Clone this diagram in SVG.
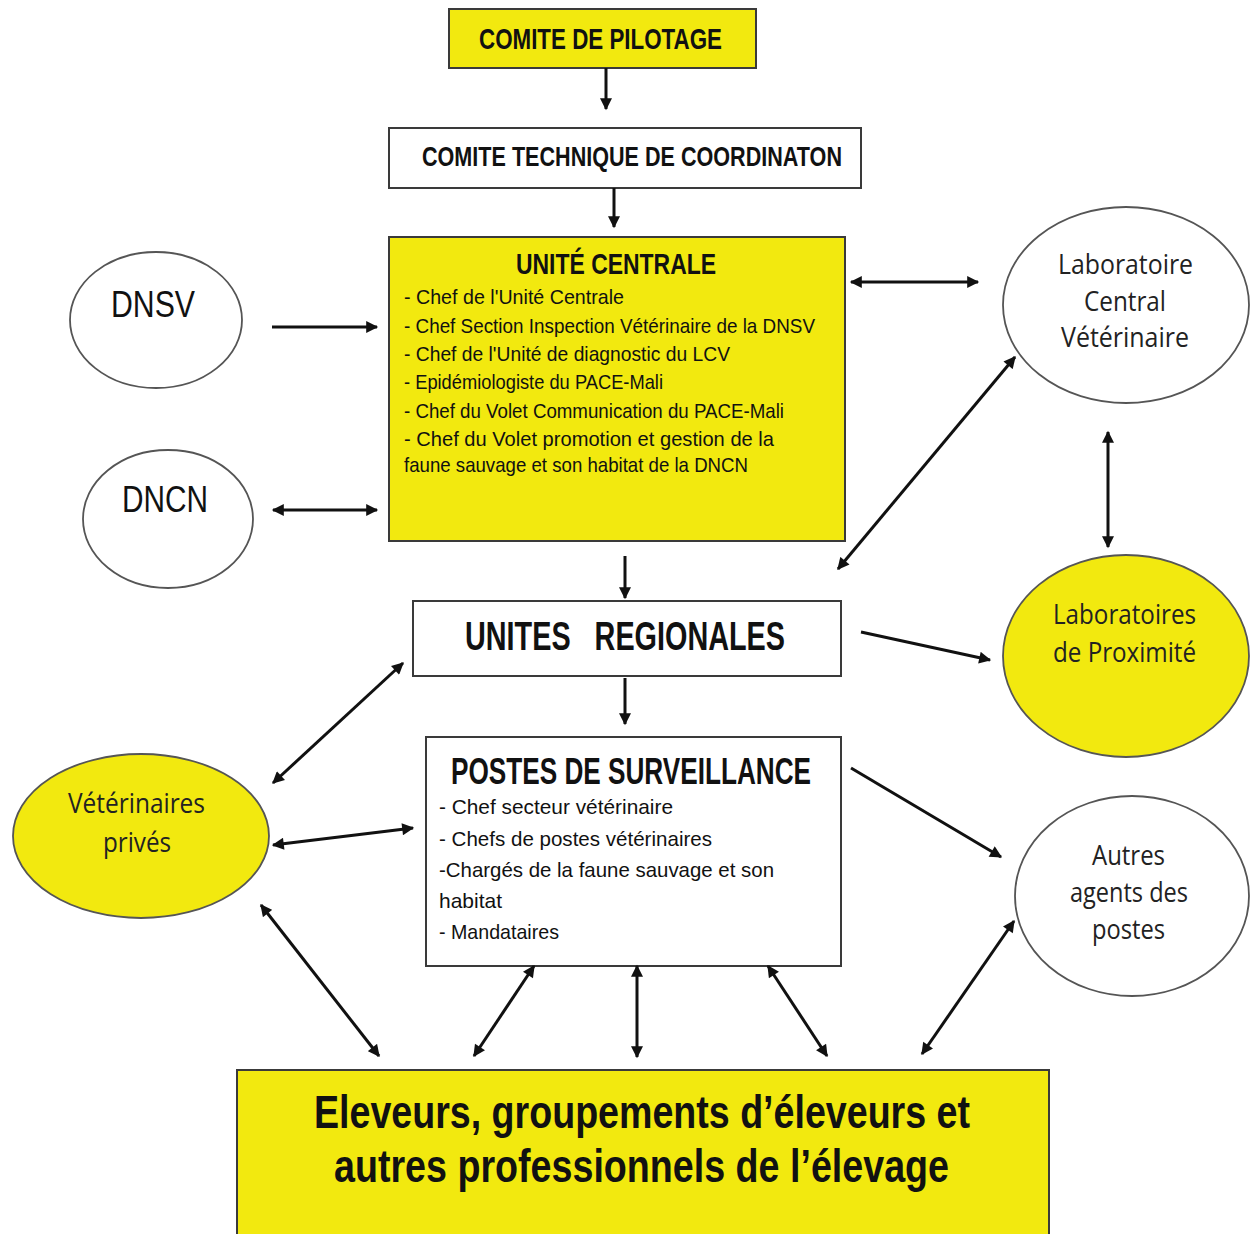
<svg xmlns="http://www.w3.org/2000/svg" width="1260" height="1234" viewBox="0 0 1260 1234">
<defs>
<style>
.box{stroke:#3a3a3a;stroke-width:2}
.y{fill:#f2e90f}
.w{fill:#ffffff}
.ell{stroke:#555;stroke-width:1.8}
.t{font-family:"Liberation Sans",Arial,sans-serif;fill:#111}
.b{font-weight:bold}
.e{font-family:"Open Sans","Liberation Sans",sans-serif;fill:#222}
.c{stroke:#111;stroke-width:3;fill:none}
</style>
<marker id="ah" viewBox="0 0 10 10" refX="9" refY="5" markerWidth="13" markerHeight="12" markerUnits="userSpaceOnUse" orient="auto-start-reverse">
<path d="M0,0 L10,5 L0,10 z" fill="#111"/>
</marker>
</defs>
<rect width="1260" height="1234" fill="#fff"/>

<g id="comite-pilotage">
<rect class="box y" x="449" y="9" width="307" height="59"/>
<text class="t b" x="479" y="49" font-size="30" textLength="243" lengthAdjust="spacingAndGlyphs">COMITE DE PILOTAGE</text>
</g>

<g id="comite-technique">
<rect class="box w" x="389" y="128" width="472" height="60"/>
<text class="t b" x="422" y="166" font-size="28" textLength="420" lengthAdjust="spacingAndGlyphs">COMITE TECHNIQUE DE COORDINATON</text>
</g>

<g id="unite-centrale">
<rect class="box y" x="389" y="237" width="456" height="304"/>
<text class="t b" x="516" y="274" font-size="30" textLength="200" lengthAdjust="spacingAndGlyphs">UNITÉ CENTRALE</text>
<g class="t" font-size="21" xml:space="preserve">
<text x="404" y="304" textLength="220" lengthAdjust="spacingAndGlyphs">- Chef  de l'Unité Centrale</text>
<text x="404" y="333" textLength="411" lengthAdjust="spacingAndGlyphs">- Chef Section Inspection Vétérinaire de la  DNSV</text>
<text x="404" y="361" textLength="326" lengthAdjust="spacingAndGlyphs">- Chef de l'Unité de diagnostic  du LCV</text>
<text x="404" y="389" textLength="259" lengthAdjust="spacingAndGlyphs">- Epidémiologiste du PACE-Mali</text>
<text x="404" y="418" textLength="380" lengthAdjust="spacingAndGlyphs">- Chef du Volet Communication du PACE-Mali</text>
<text x="404" y="446" textLength="370" lengthAdjust="spacingAndGlyphs">- Chef du Volet  promotion et  gestion de la</text>
<text x="404" y="472" textLength="344" lengthAdjust="spacingAndGlyphs">faune sauvage et son habitat de la DNCN</text>
</g>
</g>

<g id="dnsv">
<ellipse class="ell w" cx="156" cy="320" rx="86" ry="68"/>
<text class="t" x="111" y="317" font-size="36" textLength="84" lengthAdjust="spacingAndGlyphs">DNSV</text>
</g>

<g id="dncn">
<ellipse class="ell w" cx="168" cy="519" rx="85" ry="69"/>
<text class="t" x="122" y="512" font-size="36" textLength="86" lengthAdjust="spacingAndGlyphs">DNCN</text>
</g>

<g id="labo-central">
<ellipse class="ell w" cx="1126" cy="305" rx="123" ry="98"/>
<g class="e" font-size="27">
<text x="1058" y="274" textLength="135" lengthAdjust="spacingAndGlyphs">Laboratoire</text>
<text x="1084" y="311" textLength="82" lengthAdjust="spacingAndGlyphs">Central</text>
<text x="1061" y="347" textLength="128" lengthAdjust="spacingAndGlyphs">Vétérinaire</text>
</g>
</g>

<g id="labos-proximite">
<ellipse class="ell y" cx="1126" cy="656" rx="123" ry="101"/>
<g class="e" font-size="27">
<text x="1053" y="624" textLength="143" lengthAdjust="spacingAndGlyphs">Laboratoires</text>
<text x="1053" y="662" textLength="143" lengthAdjust="spacingAndGlyphs">de Proximité</text>
</g>
</g>

<g id="unites-regionales">
<rect class="box w" x="413" y="601" width="428" height="75"/>
<text class="t b" x="465" y="650" font-size="40" textLength="320" lengthAdjust="spacingAndGlyphs" xml:space="preserve">UNITES   REGIONALES</text>
</g>

<g id="postes-surveillance">
<rect class="box w" x="426" y="737" width="415" height="229"/>
<text class="t b" x="451" y="784" font-size="36" textLength="360" lengthAdjust="spacingAndGlyphs">POSTES DE SURVEILLANCE</text>
<g class="t" font-size="21" xml:space="preserve">
<text x="439" y="814" textLength="234" lengthAdjust="spacingAndGlyphs">- Chef secteur  vétérinaire</text>
<text x="439" y="846" textLength="273" lengthAdjust="spacingAndGlyphs">- Chefs de postes vétérinaires</text>
<text x="439" y="877" textLength="335" lengthAdjust="spacingAndGlyphs">-Chargés de la faune sauvage et son</text>
<text x="439" y="908" textLength="63" lengthAdjust="spacingAndGlyphs">habitat</text>
<text x="439" y="939" textLength="120" lengthAdjust="spacingAndGlyphs">- Mandataires</text>
</g>
</g>

<g id="veterinaires-prives">
<ellipse class="ell y" cx="141" cy="836" rx="128" ry="82"/>
<g class="e" font-size="27">
<text x="68" y="813" textLength="137" lengthAdjust="spacingAndGlyphs">Vétérinaires</text>
<text x="103" y="852" textLength="68" lengthAdjust="spacingAndGlyphs">privés</text>
</g>
</g>

<g id="autres-agents">
<ellipse class="ell w" cx="1132" cy="896" rx="117" ry="100"/>
<g class="e" font-size="27">
<text x="1092" y="865" textLength="73" lengthAdjust="spacingAndGlyphs">Autres</text>
<text x="1070" y="902" textLength="118" lengthAdjust="spacingAndGlyphs">agents des</text>
<text x="1092" y="939" textLength="73" lengthAdjust="spacingAndGlyphs">postes</text>
</g>
</g>

<g id="eleveurs">
<rect class="box y" x="237" y="1070" width="812" height="170"/>
<g class="t b" font-size="46">
<text x="314" y="1128" textLength="656" lengthAdjust="spacingAndGlyphs">Eleveurs, groupements d’éleveurs et</text>
<text x="334" y="1182" textLength="615" lengthAdjust="spacingAndGlyphs">autres professionnels de l’élevage</text>
</g>
</g>

<g id="connectors">
<line class="c" x1="606" y1="68" x2="606" y2="109" marker-end="url(#ah)"/>
<line class="c" x1="614" y1="188" x2="614" y2="227" marker-end="url(#ah)"/>
<line class="c" x1="272" y1="327" x2="377" y2="327" marker-end="url(#ah)" stroke-width="4"/>
<line class="c" x1="273" y1="510" x2="377" y2="510" marker-start="url(#ah)" marker-end="url(#ah)"/>
<line class="c" x1="851" y1="282" x2="978" y2="282" marker-start="url(#ah)" marker-end="url(#ah)"/>
<line class="c" x1="1015" y1="357" x2="838" y2="569" marker-start="url(#ah)" marker-end="url(#ah)"/>
<line class="c" x1="1108" y1="432" x2="1108" y2="547" marker-start="url(#ah)" marker-end="url(#ah)"/>
<line class="c" x1="625" y1="556" x2="625" y2="598" marker-end="url(#ah)"/>
<line class="c" x1="861" y1="632" x2="990" y2="660" marker-end="url(#ah)"/>
<line class="c" x1="625" y1="678" x2="625" y2="724" marker-end="url(#ah)"/>
<line class="c" x1="273" y1="783" x2="403" y2="663" marker-start="url(#ah)" marker-end="url(#ah)"/>
<line class="c" x1="273" y1="845" x2="413" y2="828" marker-start="url(#ah)" marker-end="url(#ah)"/>
<line class="c" x1="851" y1="768" x2="1001" y2="857" marker-end="url(#ah)"/>
<line class="c" x1="261" y1="905" x2="379" y2="1056" marker-start="url(#ah)" marker-end="url(#ah)"/>
<line class="c" x1="534" y1="966" x2="474" y2="1056" marker-start="url(#ah)" marker-end="url(#ah)"/>
<line class="c" x1="637" y1="966" x2="637" y2="1057" marker-start="url(#ah)" marker-end="url(#ah)"/>
<line class="c" x1="768" y1="966" x2="827" y2="1056" marker-start="url(#ah)" marker-end="url(#ah)"/>
<line class="c" x1="1014" y1="921" x2="922" y2="1054" marker-start="url(#ah)" marker-end="url(#ah)"/>
</g>
</svg>
